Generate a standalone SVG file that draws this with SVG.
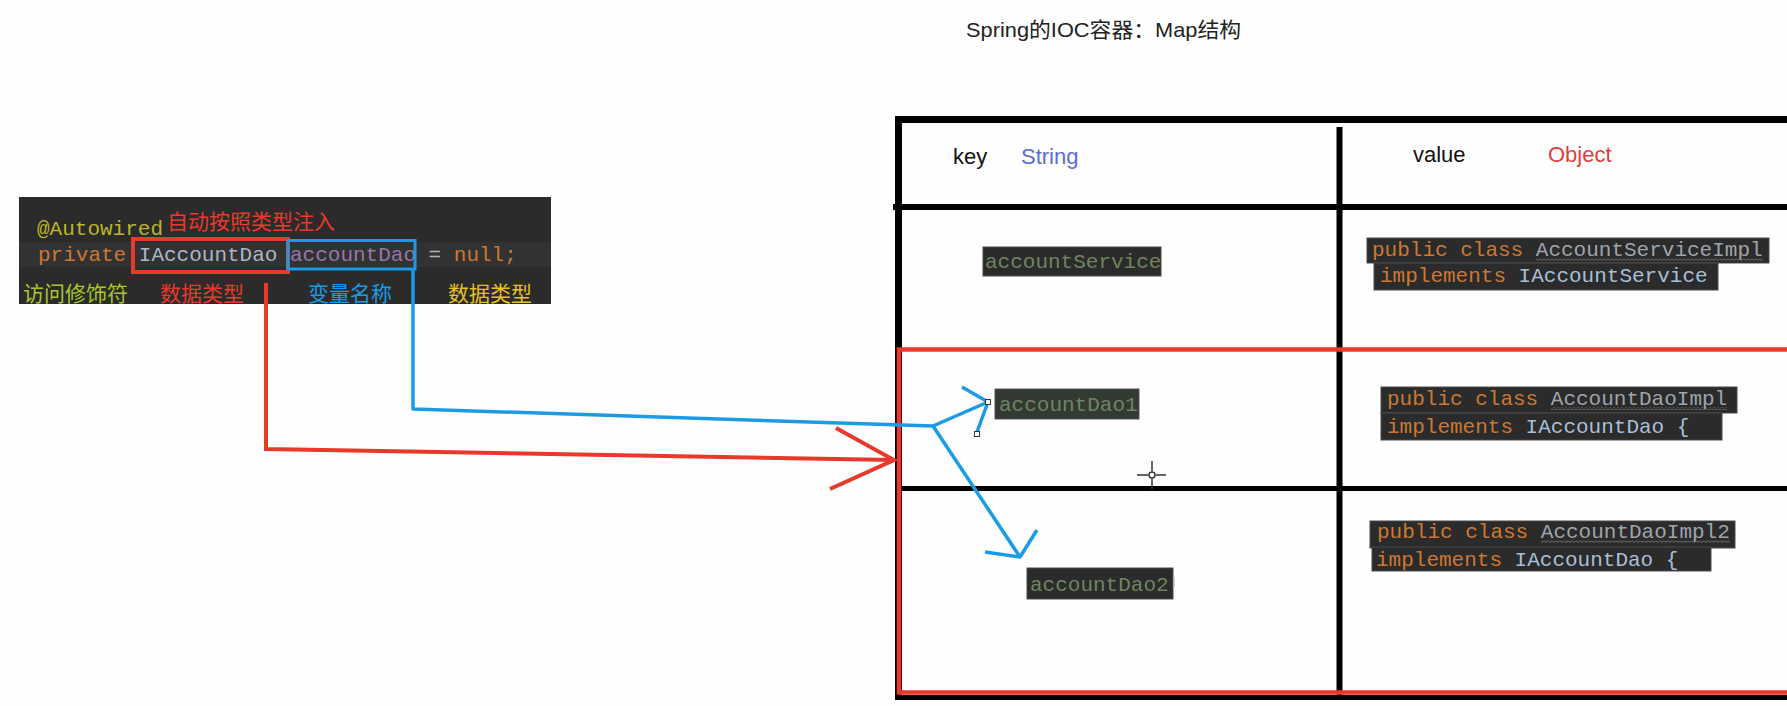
<svg xmlns="http://www.w3.org/2000/svg" width="1787" height="706" viewBox="0 0 1787 706">
<style>
.mono{font-family:"Liberation Mono","DejaVu Sans Mono",monospace;font-size:21px}
.cjk{font-family:"Liberation Sans","Noto Sans CJK SC",sans-serif;font-size:21px}
.hdr{font-family:"Liberation Sans","Noto Sans CJK SC",sans-serif;font-size:22px}
.kw{fill:#cc7832}
.id{fill:#a9b7c6}
.cls{fill:#9ea4ab}
.ifc{fill:#a9bfd6}
.keytxt{fill:#6f8560}
.cbox{fill:#2b2b2b;stroke:#4a4a4a;stroke-width:1}
.tline{stroke:#000;fill:none}
.red{stroke:#e8392c;fill:none;stroke-width:4}
.blue{stroke:#1c9ae6;fill:none;stroke-width:3.5;stroke-linejoin:round}
.redc{stroke:#e8392c;fill:none;stroke-width:4;stroke-linejoin:miter}
.handle{fill:#fff;stroke:#333;stroke-width:1}
</style>
<defs>
<pattern id="wave" width="4" height="3" patternUnits="userSpaceOnUse">
<polyline points="0,0.5 2,2.5 4,0.5" fill="none" stroke="#8c8c8c" stroke-width="0.8"/>
</pattern>
</defs>
<rect x="0" y="0" width="1787" height="706" fill="#fefefe"/>

<g id="title">
<text x="966" y="37" class="cjk" fill="#222" textLength="275" lengthAdjust="spacingAndGlyphs">Spring的IOC容器：Map结构</text>
</g>

<g id="code-snippet">
<rect x="19" y="197" width="532" height="107" fill="#2b2b2b"/>
<rect x="19" y="242" width="532" height="25" fill="#323232"/>
<text x="37" y="235" class="mono" fill="#bbb529">@Autowired</text>
<text x="167" y="229" class="cjk" fill="#e8392c">自动按照类型注入</text>
<text y="261" class="mono"><tspan x="38" class="kw">private</tspan><tspan x="138.8" class="id">IAccountDao</tspan><tspan x="290" fill="#9876aa">accountDao</tspan><tspan x="428.6" class="id">=</tspan><tspan x="453.8" class="kw">null;</tspan></text>
<rect x="133" y="239" width="155" height="33" fill="none" stroke="#e8392c" stroke-width="4"/>
<rect x="288" y="240.5" width="127" height="28.5" fill="none" stroke="#1c9ae6" stroke-width="3"/>
<text x="23" y="301" class="cjk" fill="#a9c62a">访问修饰符</text>
<text x="160" y="301" class="cjk" fill="#e8392c">数据类型</text>
<text x="308" y="301" class="cjk" fill="#1c9ae6">变量名称</text>
<text x="448" y="301" class="cjk" fill="#e8c020">数据类型</text>
</g>

<g id="table">
<line class="tline" x1="895" y1="119.5" x2="1787" y2="119.5" stroke-width="7"/>
<line class="tline" x1="898.5" y1="116" x2="898.5" y2="700" stroke-width="7"/>
<line class="tline" x1="893" y1="207" x2="1787" y2="207" stroke-width="6"/>
<line class="tline" x1="1339.5" y1="127" x2="1339.5" y2="697" stroke-width="6"/>
<line class="tline" x1="900" y1="488.5" x2="1787" y2="488.5" stroke-width="5"/>
<line class="tline" x1="895" y1="697.5" x2="1787" y2="697.5" stroke-width="5"/>
<polyline points="1787,349.5 899,349.5 899,692.5 1787,692.5" fill="none" stroke="#e8392c" stroke-width="4.5"/>
</g>

<g id="header-key">
<text x="953" y="164" class="hdr" fill="#111">key</text>
<text x="1021" y="164" class="hdr" fill="#5c6bd6">String</text>
</g>
<g id="header-value">
<text x="1413" y="162" class="hdr" fill="#111">value</text>
<text x="1548" y="162" class="hdr" fill="#e0403c">Object</text>
</g>

<g id="key-accountService">
<rect x="983" y="247" width="178" height="29" class="cbox"/>
<text x="985" y="268" class="mono keytxt">accountService</text>
</g>
<g id="key-accountDao1">
<rect x="995" y="389" width="144" height="30" fill="#333a32" stroke="#555" stroke-width="1"/>
<text x="999" y="411" class="mono keytxt">accountDao1</text>
</g>
<g id="key-accountDao2">
<rect x="1027" y="568" width="146" height="31" class="cbox"/>
<text x="1030" y="591" class="mono keytxt">accountDao2</text>
<line x1="1174" y1="577" x2="1174" y2="587" stroke="#bbb" stroke-width="1.5"/>
</g>

<g id="value-AccountServiceImpl">
<rect x="1367" y="238" width="402" height="25" class="cbox"/>
<rect x="1374" y="263" width="344" height="27" class="cbox"/>
<text y="256" class="mono"><tspan x="1372" class="kw">public class</tspan><tspan x="1535.8" class="cls">AccountServiceImpl</tspan></text>
<rect x="1536" y="258" width="227" height="3" fill="url(#wave)"/>
<text y="282" class="mono"><tspan x="1380" class="kw">implements</tspan><tspan x="1518.6" class="ifc">IAccountService</tspan></text>
</g>
<g id="value-AccountDaoImpl">
<rect x="1381" y="387" width="356" height="26" class="cbox"/>
<rect x="1381" y="413" width="341" height="27" class="cbox"/>
<text y="405" class="mono"><tspan x="1387" class="kw">public class</tspan><tspan x="1550.8" class="cls">AccountDaoImpl</tspan></text>
<rect x="1551" y="407" width="176" height="3" fill="url(#wave)"/>
<text y="433" class="mono"><tspan x="1387" class="kw">implements</tspan><tspan x="1525.6" class="ifc">IAccountDao</tspan><tspan x="1676.8" class="ifc">{</tspan></text>
</g>
<g id="value-AccountDaoImpl2">
<rect x="1370" y="521" width="365" height="27" class="cbox"/>
<rect x="1372" y="547" width="339" height="24" class="cbox"/>
<text y="538" class="mono"><tspan x="1377" class="kw">public class</tspan><tspan x="1540.8" class="cls">AccountDaoImpl2</tspan></text>
<rect x="1541" y="540" width="189" height="3" fill="url(#wave)"/>
<text y="566" class="mono"><tspan x="1376" class="kw">implements</tspan><tspan x="1514.6" class="ifc">IAccountDao</tspan><tspan x="1665.8" class="ifc">{</tspan></text>
</g>

<g id="connectors">
<polyline class="redc" points="266,283 266,449 894,460"/>
<polyline class="redc" points="836,428 894,460 830,489"/>
<polyline class="blue" points="413,269 413,409 933,426"/>
<polyline class="blue" points="933,426 988,402"/>
<polyline class="blue" points="962,387 988,402 977,432"/>
<polyline class="blue" points="933,426 1020,557"/>
<polyline class="blue" points="1037,530 1020,557 985,552"/>
</g>

<g id="handles">
<rect x="985.5" y="399.5" width="5" height="5" class="handle"/>
<rect x="974.5" y="431.5" width="5" height="5" class="handle"/>
</g>

<g id="cursor" stroke="#333" stroke-width="1.5" fill="none">
<line x1="1137" y1="475" x2="1148" y2="475"/>
<line x1="1156" y1="475" x2="1166" y2="475"/>
<line x1="1152" y1="461" x2="1152" y2="471"/>
<line x1="1152" y1="479" x2="1152" y2="489"/>
<circle cx="1152" cy="475" r="3"/>
</g>
</svg>
